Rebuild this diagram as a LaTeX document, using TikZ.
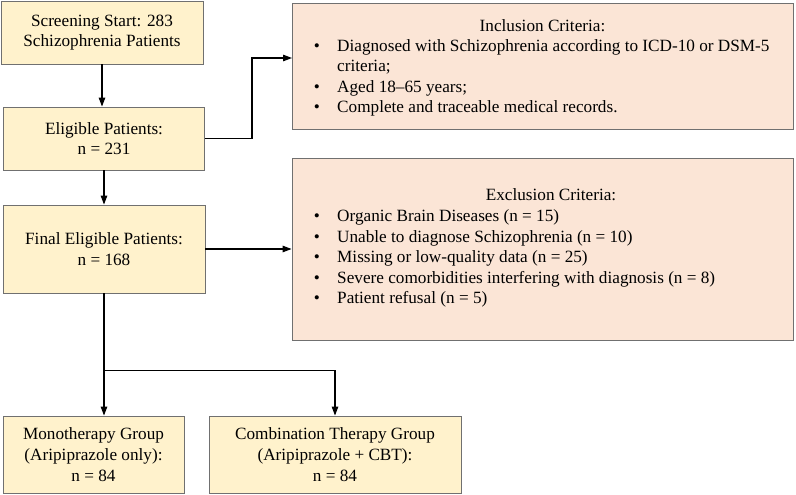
\documentclass[tikz,border=0pt]{standalone}
\usepackage{fontspec}
\setmainfont{Liberation Serif}
\usetikzlibrary{arrows.meta}
\definecolor{ybox}{HTML}{FFF2CC}
\definecolor{pbox}{HTML}{FBE5D6}
\definecolor{bord}{HTML}{707070}
\tikzset{
  txt/.style={font=\fontsize{17.2}{20.7}\selectfont},
  yellowbox/.style={draw=bord, line width=0.9pt, fill=ybox, inner sep=0pt, align=center, txt},
  peachbox/.style={draw=bord, line width=0.9pt, fill=pbox, inner sep=0pt},
  arr/.style={line width=1.2pt, -{Triangle[length=9pt,width=6.5pt]}},
  bul/.style={txt, inner sep=0pt, anchor=base},
  itm/.style={txt, inner sep=0pt, anchor=base west}
}
\begin{document}
\begin{tikzpicture}[x=1pt,y=-1pt]
\useasboundingbox (0,0) rectangle (796,495);
% left column boxes
\node[yellowbox, minimum width=202pt, minimum height=63pt] (b1) at (102,32.5) {Screening Start: 283\\Schizophrenia Patients};
\node[yellowbox, minimum width=201pt, minimum height=63pt] (b2) at (104,138.5) {Eligible Patients:\\n = 231};
\node[yellowbox, minimum width=202pt, minimum height=88pt] (b3) at (104,249) {Final Eligible Patients:\\n = 168};
\node[yellowbox, minimum width=181pt, minimum height=77pt] (mono) at (93.5,454.5) {Monotherapy Group\\(Aripiprazole only):\\n = 84};
\node[yellowbox, minimum width=252pt, minimum height=77pt] (comb) at (335,454.5) {Combination Therapy Group\\(Aripiprazole + CBT):\\n = 84};
% criteria boxes
\node[peachbox, minimum width=501pt, minimum height=126pt] (inc) at (542.5,66) {};
\node[peachbox, minimum width=501pt, minimum height=182pt] (exc) at (542.5,249) {};
% inclusion text
\node[bul] (it) at (542.5,32) {Inclusion Criteria:};
\node[bul] (ib1) at (317,52) {\textbullet};
\node[itm] (it1) at (337,52) {Diagnosed with Schizophrenia according to ICD-10 or DSM-5};
\node[itm] (it1b) at (337,72) {criteria;};
\node[bul] (ib2) at (317,93) {\textbullet};
\node[itm] (it2) at (337,93) {Aged 18--65 years;};
\node[bul] (ib3) at (317,113) {\textbullet};
\node[itm] (it3) at (337,113) {Complete and traceable medical records.};
% exclusion text
\node[bul] (et) at (551,200) {Exclusion Criteria:};
\node[bul] (eb1) at (317,221) {\textbullet};
\node[itm] (et1) at (337,221) {Organic Brain Diseases (n = 15)};
\node[bul] (eb2) at (317,242) {\textbullet};
\node[itm] (et2) at (337,242) {Unable to diagnose Schizophrenia (n = 10)};
\node[bul] (eb3) at (317,262) {\textbullet};
\node[itm] (et3) at (337,262) {Missing or low-quality data (n = 25)};
\node[bul] (eb4) at (317,283) {\textbullet};
\node[itm] (et4) at (337,283) {Severe comorbidities interfering with diagnosis (n = 8)};
\node[bul] (eb5) at (317,303) {\textbullet};
\node[itm] (et5) at (337,303) {Patient refusal (n = 5)};
% connectors
\coordinate (incin) at (292,58);
\draw[arr] (b1.south) -- (b1.south |- b2.north);
\draw[arr] (b2.south) -- (b2.south |- b3.north);
\draw[arr] (b2.east) -- ++(47,0) |- (incin);
\draw[arr] (b3.east) -- (b3.east -| exc.west);
\draw[arr] (b3.south) -- (b3.south |- mono.north);
\coordinate (split) at ([yshift=-77pt]b3.south);
\draw[arr] (split) -| (comb.north);
\end{tikzpicture}
\end{document}
